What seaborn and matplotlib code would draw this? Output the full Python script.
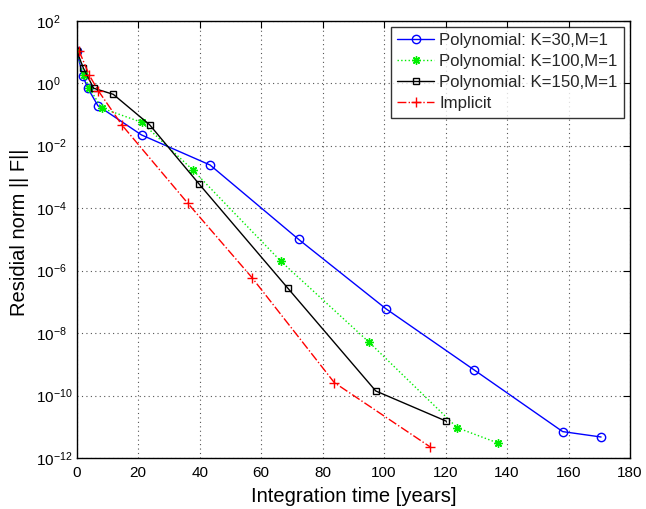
import numpy as np
import pandas as pd
import matplotlib
matplotlib.use("Agg")
import matplotlib.pyplot as plt
import seaborn as sns

# Data (x in years, y = residual norm)
labels = ["Polynomial: K=30,M=1", "Polynomial: K=100,M=1",
          "Polynomial: K=150,M=1", "Implicit"]

x_k30 = [0.0, 2.0, 3.6, 6.9, 21.1, 43.4, 72.2, 100.6, 129.4, 158.1, 170.6]
y_k30 = [11.0, 1.7, 0.70, 0.19, 0.022, 2.4e-3, 1.0e-5, 6.0e-8, 6.5e-10, 7.0e-12, 4.7e-12]

x_k100 = [0.0, 2.3, 4.1, 8.1, 21.1, 37.7, 66.4, 95.2, 123.8, 137.1]
y_k100 = [11.0, 1.8, 0.70, 0.16, 0.056, 1.7e-3, 2.0e-6, 5.0e-9, 9.3e-12, 3.0e-12]

x_k150 = [0.0, 2.2, 5.5, 11.9, 23.7, 39.9, 68.6, 97.3, 120.3]
y_k150 = [11.0, 3.0, 0.69, 0.44, 0.047, 5.8e-4, 2.8e-7, 1.4e-10, 1.5e-11]

x_imp = [0.75, 4.1, 7.0, 14.7, 36.1, 57.0, 83.8, 114.9]
y_imp = [11.0, 1.8, 0.58, 0.046, 1.45e-4, 6.0e-7, 2.6e-10, 2.3e-12]

xticks = [0, 20, 40, 60, 80, 100, 120, 140, 160, 180]
ytick_exps = [-12, -10, -8, -6, -4, -2, 0, 2]

series = [(x_k30, y_k30), (x_k100, y_k100), (x_k150, y_k150), (x_imp, y_imp)]
frames = []
for lab, (xs, ys) in zip(labels, series):
    frames.append(pd.DataFrame({"x": xs, "y": ys, "series": lab}))
df = pd.concat(frames, ignore_index=True)

sns.set_style("white")
plt.rcParams["font.family"] = ["Liberation Sans", "DejaVu Sans"]
plt.rcParams["mathtext.fontset"] = "custom"
plt.rcParams["mathtext.rm"] = "Liberation Sans"
plt.rcParams["mathtext.it"] = "Liberation Sans"
plt.rcParams["mathtext.sf"] = "Liberation Sans"

fig = plt.figure(figsize=(6.46, 5.09), dpi=100)
ax = fig.add_axes([0.1187, 0.1002, 0.9752 - 0.1187, 0.9593 - 0.1002])

styles = [
    dict(color="#0000ff", marker="o", linestyle="-", markersize=6, mfc="none", mew=1.0),
    dict(color="#00ee00", marker=(8, 2, 0), linestyle=":", markersize=6, mfc="none", mew=1.0),
    dict(color="#000000", marker="s", linestyle="-", markersize=5, mfc="none", mew=1.0),
    dict(color="#ff0000", marker="+", linestyle="-.", markersize=7, mfc="none", mew=1.0),
]

for lab, st in zip(labels, styles):
    sub = df[df["series"] == lab]
    sns.lineplot(data=sub, x="x", y="y", ax=ax, sort=False, estimator=None,
                 color=st["color"], marker=st["marker"], linestyle=st["linestyle"],
                 markersize=st["markersize"], markerfacecolor=st["mfc"],
                 markeredgecolor=st["color"], markeredgewidth=st["mew"],
                 linewidth=1.0, label=lab)

ax.set_yscale("log")
ax.set_xlim(0, 180)
ax.set_ylim(1e-12, 1e2)
ax.set_xticks(xticks)
ax.set_yticks([10.0 ** e for e in ytick_exps])
ax.set_yticklabels([r"$10^{%d}$" % e for e in ytick_exps])
ax.yaxis.set_minor_locator(matplotlib.ticker.NullLocator())
ax.tick_params(which="major", direction="in", length=5, width=0.8,
               top=True, right=True, labelsize=11, colors="black")
ax.tick_params(axis="y", pad=29.5)
ax.tick_params(axis="x", pad=5.5)
for lbl in ax.get_yticklabels():
    lbl.set_horizontalalignment("left")
ax.grid(True, which="major", linestyle=(0, (1, 3)), color="#555555", linewidth=0.8)
for s in ax.spines.values():
    s.set_visible(True)
    s.set_color("black")
    s.set_linewidth(1.0)

ax.set_xlabel("Integration time [years]", fontsize=14.5, color="black", labelpad=5)
ax.set_ylabel("Residial norm || F||", fontsize=14.5, color="black")
ax.yaxis.set_label_coords(-0.086, 0.517)

leg = ax.legend(loc="upper right", fontsize=12.1, frameon=True, fancybox=False,
                edgecolor="black", borderaxespad=0.35, handlelength=2.2,
                handletextpad=0.3, labelspacing=0.36, borderpad=0.38)
leg.get_frame().set_linewidth(1.0)

fig.savefig("out.png", dpi=100, facecolor="white")
